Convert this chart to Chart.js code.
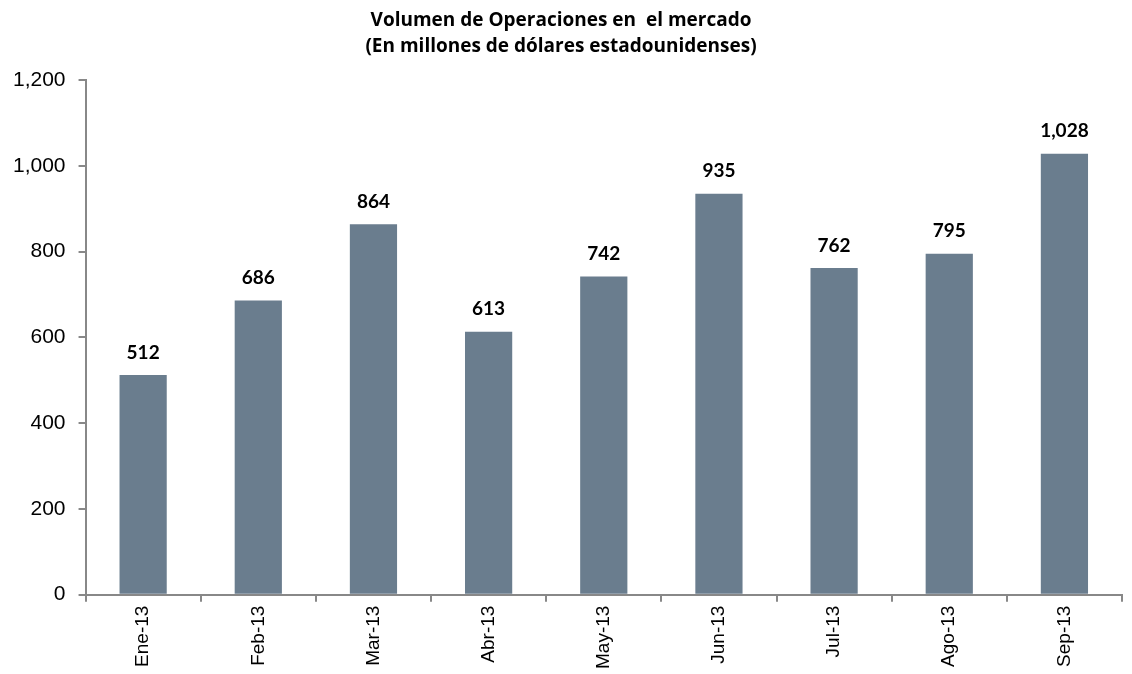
<!DOCTYPE html>
<html>
<head>
<meta charset="utf-8">
<script src="https://cdn.jsdelivr.net/npm/chart.js@4"></script>
<style>
  html, body { margin: 0; padding: 0; background: #fff; }
  #wrap { width: 1132px; height: 674px; }
</style>
</head>
<body>
<div id="wrap"><canvas id="bar-chart"></canvas></div>
<script>
const months = ["Ene-13", "Feb-13", "Mar-13", "Abr-13", "May-13", "Jun-13", "Jul-13", "Ago-13", "Sep-13"];
const volumen = [512, 686, 864, 613, 742, 935, 762, 795, 1028];
const titleLines = ["Volumen de Operaciones en  el mercado", "(En millones de dólares estadounidenses)"];

// etiquetas encima de cada barra
const barLabels = {
    id: 'barLabels',
    afterDatasetsDraw(chart) {
        const ctx = chart.ctx;
        const meta = chart.getDatasetMeta(0);
        ctx.save();
        ctx.font = 'bold 19px Lato, sans-serif';
        ctx.fillStyle = '#000';
        ctx.textAlign = 'center';
        ctx.textBaseline = 'bottom';
        meta.data.forEach((bar, i) => {
            ctx.fillText(volumen[i].toLocaleString('en-US'), bar.x, bar.y - 13);
        });
        ctx.restore();
    }
};

new Chart(document.getElementById("bar-chart"), {
    type: 'bar',
    data: {
        labels: months,
        datasets: [
            {
                data: volumen,
                backgroundColor: "#6A7D8E",
                barPercentage: 0.41,
                categoryPercentage: 1.0
            }
        ]
    },
    options: {
        responsive: true,
        maintainAspectRatio: false,
        animation: false,
        layout: { padding: { left: 0, right: 10, top: 0, bottom: 1 } },
        plugins: {
            legend: { display: false },
            tooltip: { enabled: false },
            title: {
                display: true,
                text: titleLines,
                color: '#000',
                font: { family: '"Open Sans", sans-serif', size: 19, weight: 'bold', lineHeight: 1.37 },
                padding: { top: 8, bottom: 20 }
            }
        },
        scales: {
            x: {
                border: { display: true, color: '#888', width: 2 },
                grid: { display: true, drawOnChartArea: false, drawTicks: true, tickLength: 7, color: '#888', lineWidth: 2, offset: true },
                ticks: {
                    color: '#000',
                    font: { family: '"Liberation Sans", sans-serif', size: 19 },
                    maxRotation: 90,
                    minRotation: 90,
                    padding: 4
                }
            },
            y: {
                min: 0,
                max: 1200,
                border: { display: true, color: '#888', width: 2 },
                grid: { display: true, drawOnChartArea: false, drawTicks: true, tickLength: 7, color: '#888', lineWidth: 2 },
                ticks: {
                    stepSize: 200,
                    color: '#000',
                    font: { family: '"Liberation Sans", sans-serif', size: 21 },
                    padding: 13,
                    callback: v => v.toLocaleString('en-US')
                }
            }
        }
    },
    plugins: [barLabels]
});
</script>
</body>
</html>
